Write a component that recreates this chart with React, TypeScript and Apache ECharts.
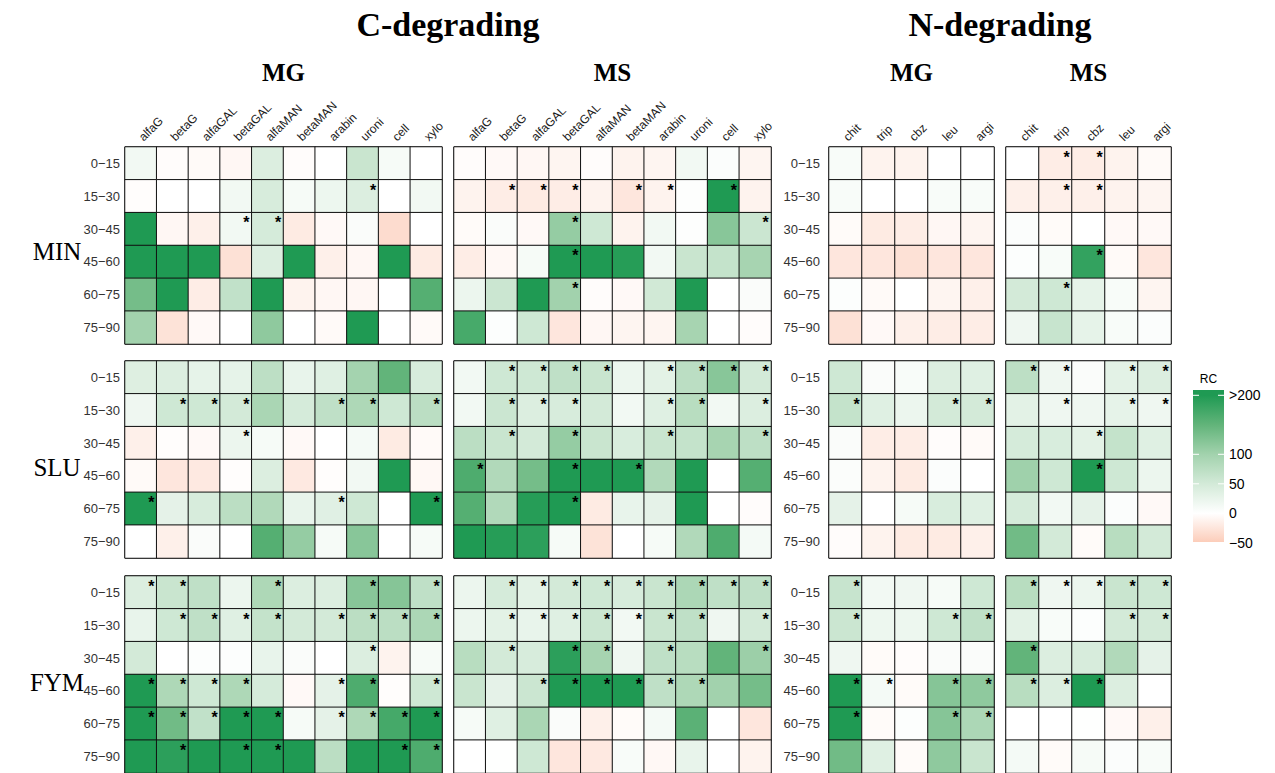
import React, { useEffect, useRef } from 'react';
import * as echarts from 'echarts';

// Enzyme activity columns and soil depth rows
const cCols = ['alfaG', 'betaG', 'alfaGAL', 'betaGAL', 'alfaMAN', 'betaMAN', 'arabin', 'uroni', 'cell', 'xylo'];
const nCols = ['chit', 'trip', 'cbz', 'leu', 'argi'];
const depths = ['0−15', '15−30', '30−45', '45−60', '60−75', '75−90'];
const treatments = ['MIN', 'SLU', 'FYM'];

// Colour scale for relative change (RC)
const scaleStops = [-50, 0, 50, 100, 150, 200];
const scaleColors = ['#FCCDBA', '#FFFFFF', '#D3EAD8', '#A2D2AD', '#62B47A', '#1F9A53'];
const legendBreaks = [200, 100, 50, 0, -50];
const legendLabels = ['>200', '100', '50', '0', '−50'];

// RC values, rows = depth, columns = enzymes
const MIN_C_MG = [
  [15, -3, -5, -8, 40, -3, 0, 60, 10, 0],
  [-2, 0, 0, 15, 45, 10, 20, 40, 0, 15],
  [220, -8, -15, 15, 48, -20, -6, 6, -35, 0],
  [220, 220, 220, -30, 40, 220, -15, -8, 220, -20],
  [135, 220, -18, 68, 200, -12, -8, -8, 0, 160],
  [100, -28, -6, 0, 115, 0, -5, 220, 0, -5],
];
const MIN_C_MG_SIG = ['0000000000', '0000000100', '0001100000', '0000000000', '0000000000', '0000000000'];

const MIN_C_MS = [
  [-3, -6, -8, -10, -3, -12, -10, 15, 4, -10],
  [-12, -18, -20, -18, -12, -25, -12, 2, 220, -12],
  [-4, 6, -6, 110, 55, -12, 15, 2, 120, 58],
  [-18, -7, 10, 220, 220, 195, 15, 60, 65, 95],
  [22, 58, 220, 100, -3, -6, 52, 220, 0, 6],
  [170, 3, 55, -25, -8, -10, -10, 95, 0, -3],
];
const MIN_C_MS_SIG = ['0000000000', '0111011010', '0001000001', '0001000000', '0001000000', '0000000000'];

const MIN_N_MG = [
  [8, -12, -12, 0, 0],
  [8, 0, 0, 8, 8],
  [-4, -20, -18, -8, -10],
  [-25, -25, -30, -25, -25],
  [3, -5, 0, -10, -15],
  [-30, -6, -15, -18, -18],
];
const MIN_N_MG_SIG = ['00000', '00000', '00000', '00000', '00000', '00000'];

const MIN_N_MS = [
  [0, -18, -18, -12, -5],
  [-15, -15, -15, -12, -10],
  [4, -4, 0, -6, -6],
  [3, 8, 185, -5, -25],
  [50, 55, 28, 8, -10],
  [18, 62, 28, 8, 4],
];
const MIN_N_MS_SIG = ['01100', '01100', '00000', '00100', '01000', '00000'];

const SLU_C_MG = [
  [38, 40, 28, 28, 72, 26, 36, 98, 150, 45],
  [18, 55, 55, 50, 92, 48, 70, 88, 55, 75],
  [-15, -2, -6, 22, 10, -6, 0, 12, -20, -5],
  [-5, -25, -22, -2, 40, -22, -2, 15, 220, -7],
  [220, 30, 45, 75, 85, 26, 35, 55, 0, 220],
  [0, -15, 6, 0, 160, 110, 10, 120, 0, 10],
];
const SLU_C_MG_SIG = ['0000000000', '0111001101', '0001000000', '0000000000', '1000001001', '0000000000'];

const SLU_C_MS = [
  [15, 55, 55, 70, 60, 22, 32, 75, 120, 50],
  [15, 58, 40, 45, 50, 15, 36, 78, 15, 40],
  [75, 60, 50, 110, 60, 44, 60, 65, 95, 72],
  [165, 85, 135, 220, 220, 220, 85, 220, 0, 160],
  [160, 85, 195, 215, -20, 26, 30, 220, 0, -3],
  [220, 195, 190, 10, -28, 0, 10, 85, 165, 12],
];
const SLU_C_MS_SIG = ['0111101111', '0111001101', '0101001001', '1001010000', '0001000000', '0000000000'];

const SLU_N_MG = [
  [55, 6, 8, 40, 36],
  [65, 36, 22, 50, 50],
  [6, -18, -18, -3, -5],
  [5, -12, -20, 4, 0],
  [30, 0, 10, 44, 36],
  [-3, -12, -20, -20, -15],
];
const SLU_N_MG_SIG = ['00000', '10011', '00000', '00000', '00000', '00000'];

const SLU_N_MS = [
  [72, 18, 6, 32, 40],
  [32, 18, 18, 28, 18],
  [48, 44, 32, 65, 36],
  [102, 55, 220, 55, 22],
  [48, 15, 30, 4, -6],
  [138, 50, -4, 78, 50],
];
const SLU_N_MS_SIG = ['11011', '01011', '00100', '00100', '00000', '00000'];

const FYM_C_MG = [
  [40, 60, 70, 22, 88, 40, 40, 120, 122, 70],
  [26, 55, 70, 36, 65, 50, 50, 75, 75, 90],
  [50, 0, 3, 3, 26, 6, 0, 40, -12, 10],
  [220, 88, 55, 88, 48, -6, 30, 165, -2, 55],
  [215, 138, 68, 220, 220, 10, 30, 88, 172, 220],
  [215, 190, 215, 215, 215, 205, 75, 215, 220, 165],
];
const FYM_C_MG_SIG = ['1100100101', '0111101111', '0000000100', '1111001101', '1111101111', '0101100011'];

const FYM_C_MS = [
  [22, 48, 32, 50, 55, 45, 60, 90, 70, 70],
  [22, 32, 26, 36, 58, 15, 60, 70, 18, 50],
  [78, 50, 45, 190, 95, 18, 70, 78, 150, 105],
  [60, 30, 58, 215, 220, 220, 70, 88, 100, 135],
  [10, 36, 92, 6, -15, -4, 12, 155, 0, -25],
  [0, 1, 55, -25, -22, 8, -7, 26, 0, -12],
];
const FYM_C_MS_SIG = ['0111111111', '0111111101', '0101101001', '0011111100', '0000000000', '0000000000'];

const FYM_N_MG = [
  [62, 15, 18, 10, 55],
  [58, 20, 20, 55, 70],
  [18, -4, -3, 6, 6],
  [220, 12, -4, 122, 115],
  [220, -4, 3, 122, 90],
  [138, 36, -4, 115, 60],
];
const FYM_N_MG_SIG = ['10000', '10011', '00000', '11011', '10011', '00000'];

const FYM_N_MS = [
  [78, 18, 22, 60, 55],
  [32, 8, 3, 50, 50],
  [150, 40, 45, 85, 30],
  [78, 40, 220, 40, 0],
  [0, 0, 1, -6, -15],
  [12, -4, 10, 4, 8],
];
const FYM_N_MS_SIG = ['11111', '00011', '10000', '11100', '00000', '00000'];

// Panels: rows = treatment, columns = C-MG, C-MS, N-MG, N-MS
const panelValues = [
  [MIN_C_MG, MIN_C_MS, MIN_N_MG, MIN_N_MS],
  [SLU_C_MG, SLU_C_MS, SLU_N_MG, SLU_N_MS],
  [FYM_C_MG, FYM_C_MS, FYM_N_MG, FYM_N_MS],
];
const panelSig = [
  [MIN_C_MG_SIG, MIN_C_MS_SIG, MIN_N_MG_SIG, MIN_N_MS_SIG],
  [SLU_C_MG_SIG, SLU_C_MS_SIG, SLU_N_MG_SIG, SLU_N_MS_SIG],
  [FYM_C_MG_SIG, FYM_C_MS_SIG, FYM_N_MG_SIG, FYM_N_MS_SIG],
];

// Layout
const colLeft = [125, 454, 829, 1006];
const colWidth = [317, 317, 165, 165];
const rowTop = [147, 361, 576];
const rowHeight = 197;

const SANS = '"Liberation Sans", Arial, Helvetica, sans-serif';
const SERIF = '"Liberation Serif", "Times New Roman", serif';

// Legend bar geometry
const barX = 1193;
const barW = 31;
const barTop = 390;
const barBottom = 542;
const legendY = (v: number) => 513.3 - v * 0.59;

function buildOption() {
  const grid: any[] = [];
  const xAxis: any[] = [];
  const yAxis: any[] = [];
  const series: any[] = [];

  for (let r = 0; r < 3; r++) {
    for (let c = 0; c < 4; c++) {
      const idx = r * 4 + c;
      const cols = c < 2 ? cCols : nCols;
      grid.push({
        left: colLeft[c],
        top: rowTop[r],
        width: colWidth[c],
        height: rowHeight,
        show: true,
        borderColor: '#222',
        borderWidth: 1,
        backgroundColor: 'transparent',
      });
      xAxis.push({
        type: 'category',
        gridIndex: idx,
        data: cols,
        position: 'top',
        axisLine: { show: false },
        axisTick: { show: false },
        splitLine: { show: false },
        axisLabel: {
          show: r === 0,
          rotate: -45,
          interval: 0,
          margin: 8,
          align: 'left',
          verticalAlign: 'middle',
          overflow: 'none',
          width: 200,
          fontSize: 12,
          color: '#1a1a1a',
          fontFamily: SANS,
        },
      });
      yAxis.push({
        type: 'category',
        gridIndex: idx,
        data: depths,
        inverse: true,
        axisLine: { show: false },
        axisTick: { show: false },
        splitLine: { show: false },
        axisLabel: {
          show: c === 0 || c === 2,
          interval: 0,
          margin: c === 0 ? 5 : 9,
          fontSize: 13,
          color: '#333',
          fontFamily: SANS,
        },
      });
      const vals = panelValues[r][c];
      const sig = panelSig[r][c];
      const data: any[] = [];
      vals.forEach((row, yi) => {
        row.forEach((v, xi) => {
          data.push([xi, yi, v, sig[yi][xi] === '1' ? 1 : 0]);
        });
      });
      series.push({
        type: 'heatmap',
        xAxisIndex: idx,
        yAxisIndex: idx,
        data,
        itemStyle: { borderColor: '#111', borderWidth: 1 },
        label: {
          show: true,
          position: 'insideTopRight',
          distance: 3,
          formatter: (p: any) => (p.value[3] ? '*' : ''),
          color: '#000',
          fontSize: 16,
          fontWeight: 'bold',
          fontFamily: SANS,
        },
        emphasis: { disabled: true },
      });
    }
  }

  const graphic: any[] = [];
  const title = (text: string, x: number, y: number, size: number, bold: boolean) => ({
    type: 'text',
    x,
    y,
    style: {
      text,
      fontSize: size,
      fontWeight: bold ? 'bold' : 'normal',
      fontFamily: SERIF,
      fill: '#000',
      textAlign: 'center',
      textVerticalAlign: 'middle',
    },
  });
  graphic.push(title('C-degrading', (colLeft[0] + colLeft[1] + colWidth[1]) / 2, 24, 34, true));
  graphic.push(title('N-degrading', (colLeft[2] + colLeft[3] + colWidth[3]) / 2, 24, 34, true));
  ['MG', 'MS', 'MG', 'MS'].forEach((t, c) => {
    graphic.push(title(t, colLeft[c] + colWidth[c] / 2, 72, 25, true));
  });
  const rowLabelY = [251, 467, 682];
  treatments.forEach((t, r) => {
    graphic.push(title(t, 57, rowLabelY[r], 25, false));
  });

  // Legend colour bar
  const span = barBottom - barTop;
  const colorStops: any[] = [{ offset: 0, color: scaleColors[scaleColors.length - 1] }];
  for (let i = scaleStops.length - 1; i >= 0; i--) {
    const off = Math.min(1, Math.max(0, (legendY(scaleStops[i]) - barTop) / span));
    colorStops.push({ offset: off, color: scaleColors[i] });
  }
  graphic.push({
    type: 'rect',
    shape: { x: barX, y: barTop, width: barW, height: span },
    style: {
      fill: { type: 'linear', x: 0, y: 0, x2: 0, y2: 1, colorStops },
    },
  });
  legendBreaks.forEach((b, i) => {
    const y = legendY(b);
    if (b > -50) {
      graphic.push({ type: 'line', shape: { x1: barX, y1: y, x2: barX + 6, y2: y }, style: { stroke: '#fff', lineWidth: 1 } });
      graphic.push({ type: 'line', shape: { x1: barX + barW - 6, y1: y, x2: barX + barW, y2: y }, style: { stroke: '#fff', lineWidth: 1 } });
    }
    graphic.push({
      type: 'text',
      x: 1229,
      y,
      style: {
        text: legendLabels[i],
        fontSize: 14,
        fontFamily: SANS,
        fill: '#000',
        textAlign: 'left',
        textVerticalAlign: 'middle',
      },
    });
  });
  graphic.push({
    type: 'text',
    x: barX + barW / 2,
    y: 379,
    style: {
      text: 'RC',
      fontSize: 12,
      fontFamily: SANS,
      fill: '#000',
      textAlign: 'center',
      textVerticalAlign: 'middle',
    },
  });

  return {
    animation: false,
    backgroundColor: '#fff',
    grid,
    xAxis,
    yAxis,
    visualMap: {
      show: false,
      type: 'continuous',
      dimension: 2,
      min: scaleStops[0],
      max: scaleStops[scaleStops.length - 1],
      seriesIndex: series.map((_, i) => i),
      inRange: { color: scaleColors },
    },
    series,
    graphic,
  };
}

export default function App() {
  const ref = useRef<HTMLDivElement>(null);
  useEffect(() => {
    if (!ref.current) return;
    const chart = echarts.init(ref.current, undefined, { renderer: 'svg' });
    chart.setOption(buildOption() as any);
    return () => chart.dispose();
  }, []);
  return (
    <div
      ref={ref}
      style={{ position: 'fixed', left: 0, top: 0, width: 1275, height: 773, background: '#fff' }}
    />
  );
}
